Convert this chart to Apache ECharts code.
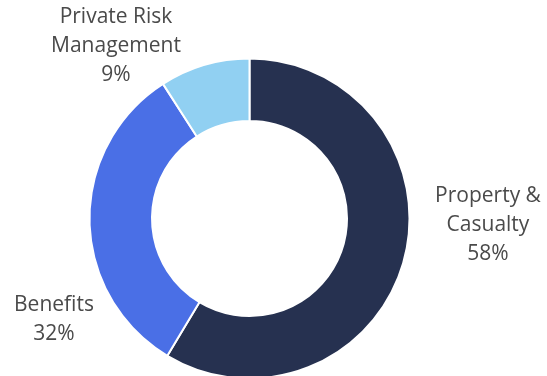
<!DOCTYPE html>
<html>
<head>
<meta charset="utf-8">
<style>html,body{margin:0;padding:0;background:#fff}#c{width:547px;height:376px}</style>
<script src="https://cdn.jsdelivr.net/npm/echarts@6/dist/echarts.min.js"></script>
</head>
<body>
<div id="c"></div>
<script>
const categories = ['Property &\nCasualty', 'Benefits', 'Private Risk\nManagement'];
const values = [58, 32, 9];
const colors = ['#263150', '#4a6fe6', '#91d0f2'];
const labelPos = [[488, 225], [54, 320], [116, 46]];

const chart = echarts.init(document.getElementById('c'));
chart.setOption({
  animation: false,
  series: [{
    type: 'pie',
    center: [249.5, 218.5],
    radius: [97.5, 160],
    startAngle: 90,
    clockwise: true,
    itemStyle: { borderColor: '#fff', borderWidth: 2 },
    label: {
      show: true,
      position: 'outside',
      formatter: p => p.name + '\n' + p.value + '%',
      fontFamily: 'Open Sans',
      fontSize: 21,
      lineHeight: 29,
      color: '#4a4a4a',
      align: 'center',
      overflow: 'none',
      width: 200
    },
    labelLine: { show: false },
    labelLayout: p => ({ x: labelPos[p.dataIndex][0], y: labelPos[p.dataIndex][1], align: 'center', verticalAlign: 'middle', width: 200 }),
    emphasis: { disabled: true },
    data: categories.map((c, i) => ({ name: c, value: values[i], itemStyle: { color: colors[i] } }))
  }]
});
</script>
</body>
</html>
